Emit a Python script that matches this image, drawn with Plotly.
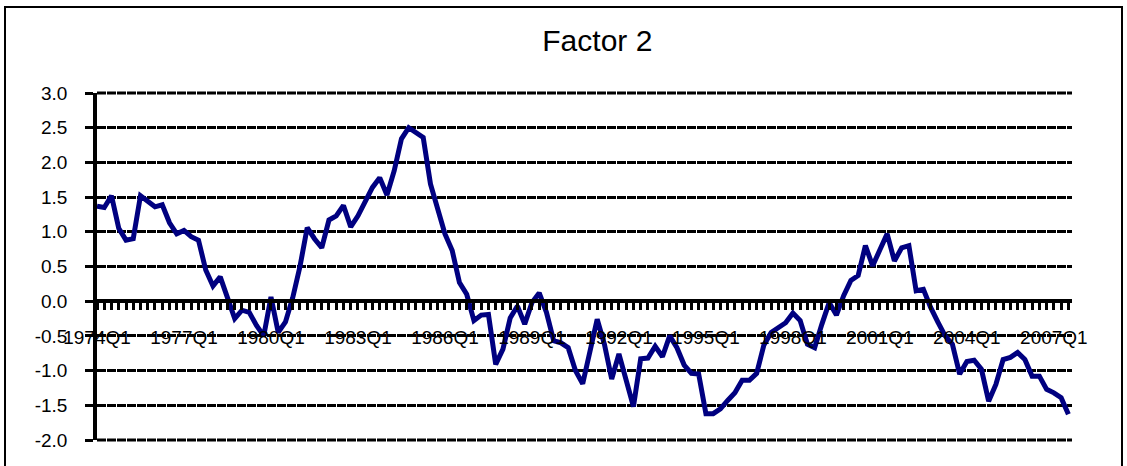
import plotly.graph_objects as go

# ---- data ----
start_year = 1974
values = [
    1.37, 1.35, 1.52, 1.05, 0.88, 0.90, 1.52, 1.45, 1.36, 1.39,
    1.13, 0.97, 1.02, 0.93, 0.88, 0.45, 0.22, 0.35, 0.05, -0.25,
    -0.13, -0.16, -0.35, -0.50, 0.06, -0.45, -0.30, 0.05, 0.50, 1.06,
    0.90, 0.77, 1.17, 1.23, 1.38, 1.07, 1.23, 1.42, 1.64, 1.78,
    1.53, 1.88, 2.34, 2.50, 2.42, 2.36, 1.69, 1.35, 0.97, 0.73,
    0.27, 0.10, -0.28, -0.20, -0.19, -0.91, -0.69, -0.24, -0.07, -0.33,
    -0.02, 0.12, -0.16, -0.57, -0.60, -0.67, -1.00, -1.19, -0.70, -0.26,
    -0.62, -1.12, -0.76, -1.15, -1.52, -0.83, -0.82, -0.65, -0.80, -0.50,
    -0.67, -0.92, -1.04, -1.05, -1.62, -1.62, -1.55, -1.43, -1.32, -1.14,
    -1.14, -1.04, -0.63, -0.45, -0.37, -0.31, -0.17, -0.28, -0.62, -0.67,
    -0.33, -0.02, -0.20, 0.08, 0.30, 0.37, 0.80, 0.51, 0.74, 0.97,
    0.58, 0.77, 0.80, 0.15, 0.17, -0.09, -0.30, -0.50, -0.62, -1.05,
    -0.87, -0.85, -0.98, -1.44, -1.20, -0.84, -0.81, -0.74, -0.84, -1.08,
    -1.08, -1.27, -1.32, -1.39, -1.63,
]
quarters = [f"{start_year + k // 4}Q{k % 4 + 1}" for k in range(len(values))]
label_step = 12
y_ticks = [-2.0, -1.5, -1.0, -0.5, 0.0, 0.5, 1.0, 1.5, 2.0, 2.5, 3.0]

idx = list(range(len(values)))
tick_text = [q if k % label_step == 0 else "" for k, q in enumerate(quarters)]

W, H = 1127, 466
ml, mr, mt, mb = 97, 55, 93, 26
pw, ph = W - ml - mr, H - mt - mb

grid_style = dict(color="black", width=3, dash="9px,1px")

fig = go.Figure()
fig.add_trace(go.Scatter(
    x=idx, y=values, mode="lines",
    line=dict(color="#000080", width=5),
    customdata=quarters,
    hovertemplate="%{customdata}: %{y:.2f}<extra></extra>",
))

font_family = "Liberation Sans, Arial, sans-serif"
ymin, ymax = y_ticks[0], y_ticks[-1]
zero_pos = (0 - ymin) / (ymax - ymin)

def px_x(p):
    return (p - ml) / pw

def px_y(p):
    return (H - mb - p) / ph

# gridlines at the range edges (Plotly omits them); paper refs avoid clipping
edge_lines = [
    dict(type="line", xref="paper", yref="paper", x0=0, x1=1,
         y0=(v - ymin) / (ymax - ymin), y1=(v - ymin) / (ymax - ymin),
         line=grid_style, layer="above")
    for v in (ymin, ymax)
]

fig.update_layout(
    width=W, height=H,
    margin=dict(l=ml, r=mr, t=mt, b=mb),
    paper_bgcolor="white", plot_bgcolor="white",
    showlegend=False,
    font=dict(family=font_family, color="black", size=19),
    title=dict(text="Factor 2", x=0.53, xanchor="center", y=1 - 40 / H,
               yanchor="middle", font=dict(size=30, family=font_family)),
    xaxis=dict(
        range=[0, len(values) - 0.5],
        tickmode="array", tickvals=idx, ticktext=tick_text,
        ticks="outside", ticklen=7, tickwidth=2.5, tickcolor="black",
        showline=True, linecolor="black", linewidth=3.5,
        showgrid=False, zeroline=False,
        anchor="free", position=zero_pos,
        ticklabelstandoff=11,
        tickfont=dict(size=19),
    ),
    yaxis=dict(
        range=[ymin, ymax],
        tickmode="array", tickvals=y_ticks,
        ticktext=[f"{v:.1f}" for v in y_ticks],
        ticks="outside", ticklen=8, tickwidth=3, tickcolor="black",
        showline=True, linecolor="black", linewidth=3.5,
        showgrid=True, gridcolor=grid_style["color"], gridwidth=grid_style["width"],
        griddash=grid_style["dash"],
        zeroline=True, zerolinecolor="black", zerolinewidth=3.5,
        ticklabelstandoff=14,
        tickfont=dict(size=19),
    ),
    shapes=edge_lines + [dict(
        type="rect", xref="paper", yref="paper",
        x0=px_x(5), x1=px_x(1122), y0=px_y(480), y1=px_y(7),
        line=dict(color="black", width=2), fillcolor="rgba(0,0,0,0)",
        layer="below",
    )],
)

fig.write_html(
    "out.html",
    config={"displayModeBar": False},
    post_script="document.body.style.margin='0';document.body.style.overflow='hidden';",
)
